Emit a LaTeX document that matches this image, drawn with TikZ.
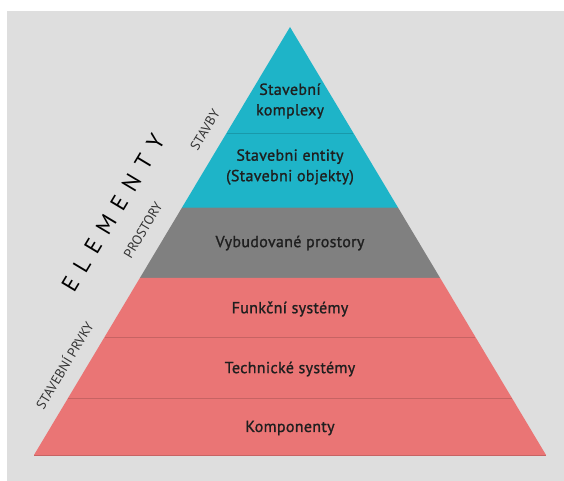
\documentclass[tikz,border=0pt]{standalone}
\usepackage{fontspec}
\setmainfont{PT Sans}
\newfontfamily\vrstvafont[FakeBold=1.2, LetterSpace=2]{PT Sans}
\usetikzlibrary{calc}

\definecolor{stavby}{HTML}{1EB4C8}
\definecolor{prostory}{HTML}{808080}
\definecolor{prvky}{HTML}{EA7575}
\definecolor{pozadi}{HTML}{DEDEDE}

\begin{document}
\begin{tikzpicture}[x=1pt, y=-1pt,
        level/.style={font=\vrstvafont\fontsize{16}{20.5}\selectfont, text=black!88, align=center},
        edgelabel/.style={font=\fontsize{13.5}{15}\selectfont, rotate=59, text=black!80},
        seam/.style={line width=0.8pt}]
        \useasboundingbox (0,0) rectangle (564,481);
        \fill[white] (0,0) rectangle (564,481);
        \fill[pozadi] (7,11) rectangle (564,481);

        \coordinate (apex) at (290,27);
        \coordinate (bl) at (34,455);
        \coordinate (br) at (546,455);

		% hranice vrstev
        \coordinate (l1) at ($(apex)!0.2477!(bl)$);
        \coordinate (r1) at ($(apex)!0.2477!(br)$);
        \coordinate (l2) at ($(apex)!0.4206!(bl)$);
        \coordinate (r2) at ($(apex)!0.4206!(br)$);
        \coordinate (l3) at ($(apex)!0.5864!(bl)$);
        \coordinate (r3) at ($(apex)!0.5864!(br)$);
        \coordinate (l4) at ($(apex)!0.7243!(bl)$);
        \coordinate (r4) at ($(apex)!0.7243!(br)$);
        \coordinate (l5) at ($(apex)!0.8668!(bl)$);
        \coordinate (r5) at ($(apex)!0.8668!(br)$);

        \fill[stavby] (apex) -- (l2) -- (r2) -- cycle;
        \fill[prostory] (l2) -- (l3) -- (r3) -- (r2) -- cycle;
        \fill[prvky] (l3) -- (bl) -- (br) -- (r3) -- cycle;

        \draw[seam, stavby!85!black] (l1) -- (r1);
        \draw[seam, stavby!70!prostory] (l2) -- (r2);
        \draw[seam, prvky!85!black] (l4) -- (r4);
        \draw[seam, prvky!85!black] (l5) -- (r5);
        \draw[seam, prvky!85!black] (bl) -- (br);

        \node[level] (komplexy) at (290,101) {Stavební\\komplexy};
        \node[level] (entity) at (290,167) {Stavebni entity\\(Stavebni objekty)};
        \node[level] (vybudovane) at (290,243) {Vybudované prostory};
        \node[level] (funkcni) at (290,309) {Funkční systémy};
        \node[level] (technicke) at (290,369) {Technické systémy};
        \node[level] (komponenty) at (290,428) {Komponenty};

		% popisky podél hrany
        \node[edgelabel] (stavbylbl) at (205,130) {STAVBY};
        \node[edgelabel] (prostorylbl) at (143,230) {PROSTORY};
        \node[edgelabel] (prvkylbl) at (64,365) {STAVEBNÍ PRVKY};
        \node[edgelabel, font=\fontsize{23}{26}\selectfont, text=black] (elementy) at (113,213)
            {E\hskip10pt L\hskip10pt E\hskip10pt M\hskip10pt E\hskip10pt N\hskip10pt T\hskip10pt Y};

    \end{tikzpicture}
\end{document}
